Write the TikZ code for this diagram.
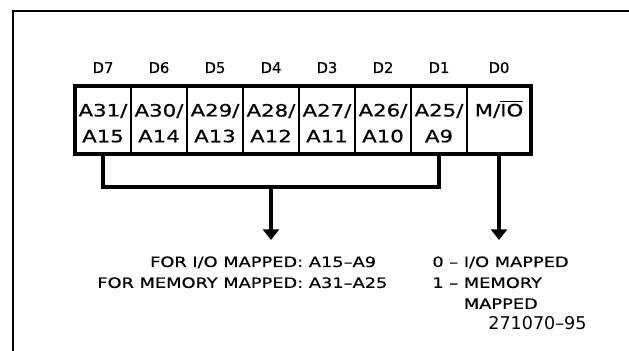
\documentclass[tikz,border=0pt]{standalone}
\usepackage{fontspec}
\setmainfont{DejaVu Sans}
\newfontfamily\widefont[FakeStretch=1.25,FakeBold=0.5]{DejaVu Sans}
\newfontfamily\lblfont[FakeBold=0.5]{DejaVu Sans}
\usetikzlibrary{arrows.meta}

\begin{document}
\begin{tikzpicture}[
    cell/.style={rectangle, draw, line width=1.7pt, minimum width=1.12cm, minimum height=1.36cm, inner sep=0pt, outer sep=0pt, align=center, font=\widefont\fontsize{9.7}{14.7}\selectfont},
    bitlbl/.style={anchor=base, inner sep=0pt, font=\lblfont\fontsize{8.4}{9}\selectfont},
    note/.style={anchor=base west, inner sep=0pt, font=\widefont\fontsize{8.1}{11.9}\selectfont},
    wire/.style={line width=2.3pt},
    arr/.style={wire, -{Triangle[width=9pt,length=6pt]}}
]
\useasboundingbox (0,0) rectangle (12.58,7.02);

% frame
\draw[line width=0.6pt] (0.26,0) -- (0.26,6.80) -- (12.58,6.80);

% Register cells
\foreach \i/\hi/\lo in {7/31/15, 6/30/14, 5/29/13, 4/28/12, 3/27/11, 2/26/10, 1/25/9} {
  \node (c\i) at ({2.06 + (7-\i)*1.12}, 4.62) [cell] {\rule{0pt}{10.8pt}A\hi/\\A\lo};
  \node (d\i) at ({2.06 + (7-\i)*1.12}, 5.56) [bitlbl] {D\i};
}
\node (c0) at (9.98,4.62) [cell, minimum width=1.28cm] {\rule{0pt}{10.8pt}M/$\overline{\mbox{IO}}$\\\phantom{A9}};
\node (d0) at (9.98,5.56) [bitlbl] {D0};
\draw[wire] (c7.north west) rectangle (c0.south east);

% Connectors
\coordinate (join) at (5.42,3.28);
\coordinate (tipL) at (5.42,2.22);
\coordinate (tipR) at (9.98,2.22);
\draw[wire] (c7.south) |- (join) -| (c1.south);
\draw[arr] (join) -- (tipL);
\draw[arr] (c0.south) -- (tipR);

% Notes
\node (addr) at (1.94,1.68) [note] {\begin{tabular}[t]{@{}r@{ }l@{}}FOR I/O MAPPED: & A15\textendash A9\\ FOR MEMORY MAPPED: & A31\textendash A25\end{tabular}};
\node (mode) at (8.64,1.68) [note] {\begin{tabular}[t]{@{}l@{ }l@{ }l@{}}0 & \textendash & I/O MAPPED\\ 1 & \textendash & MEMORY\\ & & MAPPED\end{tabular}};
\node (figid) at (9.76,0.42) [anchor=base west, inner sep=0pt, font=\fontsize{10}{12}\selectfont] {271070\textendash 95};

\end{tikzpicture}
\end{document}
